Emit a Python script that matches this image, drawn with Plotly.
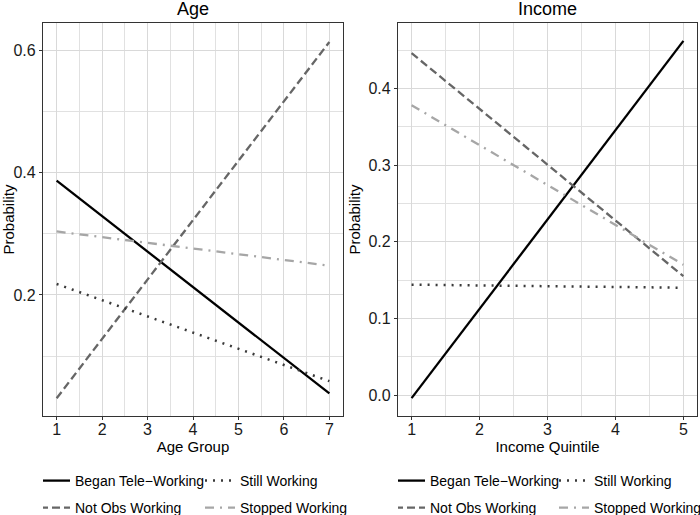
import plotly.graph_objects as go

# values (lines are straight, so endpoints)
age_x = [1, 7]
age_began = [0.387, 0.039]
age_not_obs = [0.031, 0.614]
age_still = [0.218, 0.059]
age_stopped = [0.304, 0.248]

income_x = [1, 5]
income_began = [-0.004, 0.462]
income_not_obs = [0.446, 0.155]
income_still = [0.144, 0.140]
income_stopped = [0.378, 0.170]

FONT = "Liberation Sans, Arial, sans-serif"
W, H = 700, 515

styles = {
    'Began Tele\u2212Working': dict(color='#000000', dash='solid', width=2.3),
    'Not Obs Working': dict(color='#666666', dash='8px,4px', width=2.3),
    'Still Working': dict(color='#3a3a3a', dash='2px,6px', width=2.5),
    'Stopped Working': dict(color='#a6a6a6', dash='9px,6px,2px,6px', width=2.3),
}

fig = go.Figure()

panels = [
    ('x', 'y', age_x, age_began, age_not_obs, age_still, age_stopped, ('legend', 'legend2')),
    ('x2', 'y2', income_x, income_began, income_not_obs, income_still, income_stopped, ('legend3', 'legend4')),
]
for xa, ya, xs, began, not_obs, still, stopped, (lg1, lg2) in panels:
    # order matters: first legend row = Began / Still, second = Not Obs / Stopped
    for name, ys, lg in [('Began Tele\u2212Working', began, lg1),
                         ('Not Obs Working', not_obs, lg2),
                         ('Still Working', still, lg1),
                         ('Stopped Working', stopped, lg2)]:
        fig.add_trace(go.Scatter(x=xs, y=ys, mode='lines', name=name,
                                 line=styles[name], xaxis=xa, yaxis=ya,
                                 legend=lg, hoverinfo='skip'))

axis_common = dict(
    showgrid=True, gridcolor='#d9d9d9', gridwidth=1.2,
    minor=dict(showgrid=True, gridcolor='#e1e1e1', gridwidth=1),
    showline=True, linecolor='#333333', linewidth=1.3, mirror=True,
    ticks='outside', ticklen=3, tickcolor='#333333', tickwidth=1.2,
    zeroline=False,
    tickfont=dict(family=FONT, size=16, color='#1a1a1a'),
)

ydom = [1 - 416 / H, 1 - 23 / H]

fig.update_layout(
    width=W, height=H,
    margin=dict(l=0, r=0, t=0, b=0, autoexpand=False),
    plot_bgcolor='white', paper_bgcolor='white',
    font=dict(family=FONT, size=15, color='#000000'),
    xaxis=dict(axis_common, domain=[43 / W, 343 / W], range=[0.7, 7.3], ticklabelstandoff=-4,
               tickvals=[1, 2, 3, 4, 5, 6, 7], minor=dict(axis_common['minor'], dtick=0.5, tick0=0.5),
               title=dict(text='Age Group', standoff=0, font=dict(family=FONT, size=15))),
    yaxis=dict(axis_common, domain=ydom, range=[0.002, 0.645],
               tickvals=[0.2, 0.4, 0.6], minor=dict(axis_common['minor'], dtick=0.1, tick0=0.1),
               title=dict(text='Probability', standoff=10, font=dict(family=FONT, size=15))),
    xaxis2=dict(axis_common, domain=[398 / W, 697 / W], range=[0.8, 5.2], anchor='y2', ticklabelstandoff=-4,
                tickvals=[1, 2, 3, 4, 5], minor=dict(axis_common['minor'], dtick=0.5, tick0=0.5),
                title=dict(text='Income Quintile', standoff=0, font=dict(family=FONT, size=15))),
    yaxis2=dict(axis_common, domain=ydom, range=[-0.0273, 0.4853], anchor='x2',
                tickvals=[0.0, 0.1, 0.2, 0.3, 0.4], tickformat='.1f',
                minor=dict(axis_common['minor'], dtick=0.1, tick0=0.05),
                title=dict(text='Probability', standoff=4, font=dict(family=FONT, size=15))),
    showlegend=True,
)

legend_common = dict(orientation='h', xanchor='left', yanchor='middle',
                     entrywidthmode='pixels', indentation=-8,
                     bgcolor='rgba(0,0,0,0)', font=dict(family=FONT, size=14, color='#000000'),
                     itemclick=False, itemdoubleclick=False)
fig.update_layout(
    legend=dict(legend_common, x=43 / W, y=1 - 481 / H, entrywidth=128),
    legend2=dict(legend_common, x=43 / W, y=1 - 508 / H, entrywidth=128),
    legend3=dict(legend_common, x=398 / W, y=1 - 481 / H, entrywidth=127),
    legend4=dict(legend_common, x=398 / W, y=1 - 508 / H, entrywidth=127),
)

for text, x0, x1 in [('Age', 43, 343), ('Income', 398, 697)]:
    fig.add_annotation(text=text, x=(x0 + x1) / 2 / W, y=1, yshift=3, xref='paper', yref='paper',
                       xanchor='center', yanchor='top', showarrow=False,
                       font=dict(family=FONT, size=18, color='#000000'))

# drop the default 8px page margin so the figure sits at the window's corner
fig.write_html("out.html", config={'displayModeBar': False},
               post_script="document.body.style.margin='0';")
